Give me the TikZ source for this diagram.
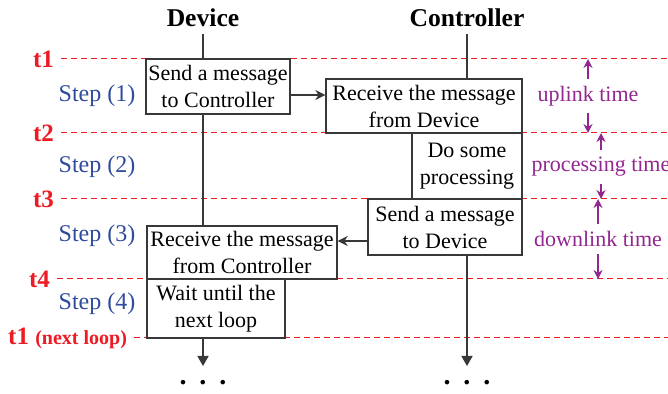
\documentclass[tikz,border=0pt]{standalone}
\usepackage{fontspec}
\setmainfont{Liberation Serif}
\usepackage{xcolor}
\usepackage{tikz}
\usetikzlibrary{arrows.meta,positioning,calc}
\definecolor{loopred}{HTML}{ED1C24}
\definecolor{loopblue}{HTML}{2F4B9B}
\definecolor{looppurple}{HTML}{92278F}
\definecolor{loopgray}{HTML}{383838}

\begin{document}
\begin{tikzpicture}[x=0.5pt,y=-0.5pt,
  box/.style={draw=loopgray,fill=white,line width=0.7pt,align=center,inner sep=0pt,
              font=\fontsize{11}{13.5}\selectfont},
  head/.style={font=\fontsize{12.8}{15}\selectfont\bfseries},
  tlabel/.style={text=loopred,anchor=east,font=\fontsize{12.5}{14}\selectfont\bfseries},
  tline/.style={loopred,dash pattern=on 3pt off 2pt,line width=0.5pt},
  steplbl/.style={text=loopblue,font=\fontsize{12}{14}\selectfont},
  spanlbl/.style={text=looppurple,font=\fontsize{11}{13}\selectfont},
  span/.style={draw=looppurple,line width=0.7pt,-{Stealth[length=4.5pt,width=4.5pt]}},
  msg/.style={draw=loopgray,line width=0.7pt,-{Stealth[length=5pt,width=5pt]}},
  life/.style={draw=loopgray,line width=0.7pt},
  ]

  \useasboundingbox (0,0) rectangle (668,394);

  % lanes
  \node[head] (dev) at (203,18) {Device};
  \node[head] (ctl) at (467,18) {Controller};

  % time marks
  \coordinate (edge) at (668,0);
  \coordinate (stop) at (0,366);
  \node[tlabel] (t1) at (61,59)  {t1};
  \node[tlabel] (t2) at (61,133) {t2};
  \node[tlabel] (t3) at (61,199) {t3};
  \node[tlabel] (t4) at (57,279) {t4};
  \node[tlabel] (t5) at (134,338) {t1 {\fontsize{10}{12}\selectfont(next loop)}};
  \foreach \t in {t1,t2,t3,t4,t5}
    \draw[tline] (\t.east) -- (\t.east -| edge);

  \node[steplbl] (s1) at (97,96)  {Step (1)};
  \node[steplbl] (s2) at (97,167) {Step (2)};
  \node[steplbl] (s3) at (97,236) {Step (3)};
  \node[steplbl] (s4) at (97,304) {Step (4)};

  % actions
  \node[box,minimum width=72pt,minimum height=27.5pt] (send)  at (218,86.5) {Send a message\\to Controller};
  \node[box,minimum width=98pt,minimum height=27pt]   (recv)  at (424,106)  {Receive the message\\from Device};
  \node[box,minimum width=55pt,minimum height=33pt]   (proc)  at (467,166)  {Do some\\processing};
  \node[box,minimum width=77pt,minimum height=28pt]   (reply) at (445,227)  {Send a message\\to Device};
  \node[box,minimum width=95pt,minimum height=26.5pt] (get)   at (242,252.5) {Receive the message\\from Controller};
  \node[box,minimum width=69pt,minimum height=29.5pt] (wait)  at (216,308.5) {Wait until the\\next loop};

  % lifelines
  \draw[life] (dev.south) -- (dev.south |- send.north);
  \draw[life] (dev.south |- send.south) -- (dev.south |- get.north);
  \draw[life] (ctl.south) -- (ctl.south |- recv.north);
  \draw[life,-{Triangle[length=5pt,width=5.5pt]}] (dev.south |- wait.south) -- (dev.south |- stop);
  \draw[life,-{Triangle[length=5pt,width=5.5pt]}] (ctl.south |- reply.south) -- (ctl.south |- stop);
  \node[anchor=base,font=\fontsize{14}{16}\selectfont\bfseries] (devdots) at (203,385) {.\hspace{6.5pt}.\hspace{6.5pt}.};
  \node[anchor=base,font=\fontsize{14}{16}\selectfont\bfseries] (ctldots) at (467,385) {.\hspace{6.5pt}.\hspace{6.5pt}.};

  % messages
  \draw[msg] ([yshift=-4.25pt]send.east) -- ([yshift=-4.25pt]send.east -| recv.west);
  \draw[msg] ([yshift=-7pt]reply.west) -- ([yshift=-7pt]reply.west -| get.east);

  % durations
  \node[spanlbl] (up)   at (588,96)  {uplink time};
  \node[spanlbl] (work) at (601,167) {processing time};
  \node[spanlbl] (down) at (598,239) {downlink time};
  \draw[span] (up.north) -- (up.north |- t1.east);
  \draw[span] (up.south) -- (up.south |- t2.east);
  \draw[span] (work.north) -- (work.north |- t2.east);
  \draw[span] (work.south) -- (work.south |- t3.east);
  \draw[span] (down.north) -- (down.north |- t3.east);
  \draw[span] (down.south) -- (down.south |- t4.east);

\end{tikzpicture}
\end{document}
